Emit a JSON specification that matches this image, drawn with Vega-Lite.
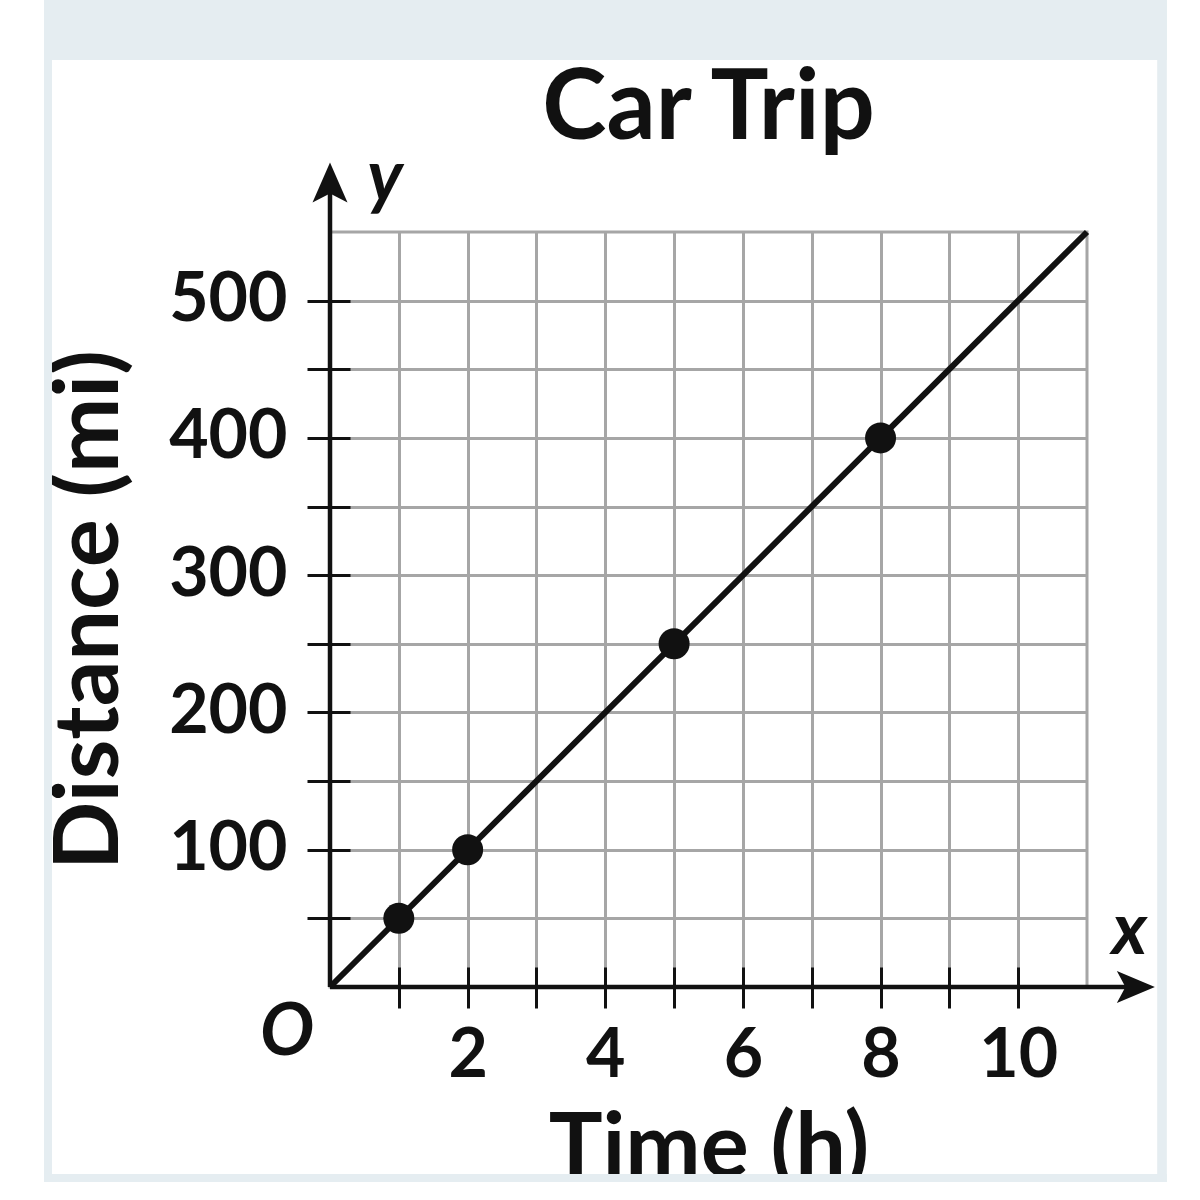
{
  "$schema": "https://vega.github.io/schema/vega-lite/v6.json",
  "width": 757,
  "height": 755,
  "autosize": {"type": "none"},
  "padding": {"left": 330, "top": 232, "right": 113, "bottom": 213},
  "background": "white",
  "config": {
    "view": {"stroke": "#a6a6a6", "strokeWidth": 3},
    "font": "Lato"
  },
  "title": {
    "text": "Car Trip",
    "font": "Lato",
    "fontSize": 97,
    "fontWeight": "bold",
    "color": "#111111",
    "anchor": "middle",
    "frame": "group",
    "baseline": "alphabetic",
    "offset": -236
  },
  "datasets": {
    "frame": [
      {"time": -4.156, "time2": 12.16, "distance": 675.3, "distance2": 719},
      {"time": -4.156, "time2": -4.04, "distance": -142, "distance2": 719},
      {"time": 12.02, "time2": 12.16, "distance": -142, "distance2": 719},
      {"time": -4.156, "time2": 12.16, "distance": -142, "distance2": -136.2}
    ],
    "page": [
      {"time": -4.156, "time2": 12.16, "distance": -142, "distance2": -160}
    ],
    "axislines": [
      {"time": 0, "time2": 11.71, "distance": 0, "distance2": 0},
      {"time": 0, "time2": 0, "distance": 0, "distance2": 586}
    ],
    "trip": [
      {"time": 1, "distance": 50},
      {"time": 2, "distance": 100},
      {"time": 5, "distance": 250},
      {"time": 8, "distance": 400}
    ],
    "line": [
      {"time": 0, "distance": 0},
      {"time": 11, "distance": 550}
    ],
    "labels": [
      {"time": -0.625, "distance": -49.5, "text": "O"},
      {"time": 11.62, "distance": 24, "text": "x"},
      {"time": 0.8, "distance": 572.6, "text": "y"}
    ]
  },
  "encoding": {
    "x": {
      "field": "time",
      "type": "quantitative",
      "scale": {"domain": [0, 11], "nice": false, "zero": false},
      "axis": {
        "title": "Time (h)",
        "values": [1, 2, 3, 4, 5, 6, 7, 8, 9, 10],
        "labelExpr": "datum.value % 2 === 0 ? datum.label : ''",
        "domain": false,
        "offset": -20,
        "tickSize": 41,
        "tickWidth": 3,
        "tickColor": "#111111",
        "grid": true,
        "gridColor": "#a6a6a6",
        "gridWidth": 3,
        "labelFont": "Lato",
        "labelFontWeight": "bold",
        "labelFontSize": 68,
        "labelColor": "#111111",
        "labelPadding": 14,
        "labelFlush": false,
        "labelOverlap": false,
        "titleFont": "Lato",
        "titleFontSize": 90,
        "titleFontWeight": "bold",
        "titleColor": "#111111",
        "titlePadding": 15
      }
    },
    "y": {
      "field": "distance",
      "type": "quantitative",
      "scale": {"domain": [0, 550], "nice": false, "zero": false},
      "axis": {
        "title": "Distance (mi)",
        "values": [50, 100, 150, 200, 250, 300, 350, 400, 450, 500],
        "labelExpr": "datum.value % 100 === 0 ? datum.label : ''",
        "domain": false,
        "offset": -20,
        "tickSize": 43,
        "tickWidth": 3,
        "tickColor": "#111111",
        "grid": true,
        "gridColor": "#a6a6a6",
        "gridWidth": 3,
        "labelFont": "Lato",
        "labelFontWeight": "bold",
        "labelFontSize": 68,
        "labelColor": "#111111",
        "labelPadding": 20,
        "labelFlush": false,
        "labelOverlap": false,
        "titleFont": "Lato",
        "titleFontSize": 90,
        "titleFontWeight": "bold",
        "titleColor": "#111111",
        "titlePadding": 32
      }
    }
  },
  "layer": [
    {
      "data": {"name": "frame"},
      "mark": {"type": "rect", "color": "#e5edf1", "clip": false},
      "encoding": {"x2": {"field": "time2"}, "y2": {"field": "distance2"}}
    },
    {
      "data": {"name": "page"},
      "mark": {"type": "rect", "color": "#ffffff", "clip": false},
      "encoding": {"x2": {"field": "time2"}, "y2": {"field": "distance2"}}
    },
    {
      "data": {"name": "axislines"},
      "mark": {"type": "rule", "color": "#111111", "strokeWidth": 4.5},
      "encoding": {"x2": {"field": "time2"}, "y2": {"field": "distance2"}}
    },
    {
      "data": {"values": [{"time": 11.71, "distance": 0}]},
      "mark": {"type": "point", "filled": true, "color": "#111111", "opacity": 1, "size": 1444, "shape": "M1,0L-1,0.84L-0.55,0L-1,-0.84Z"},
      "encoding": {}
    },
    {
      "data": {"values": [{"time": 0, "distance": 586}]},
      "mark": {"type": "point", "filled": true, "color": "#111111", "opacity": 1, "size": 1600, "shape": "M0,-1L0.875,1L0,0.55L-0.875,1Z"},
      "encoding": {}
    },
    {
      "data": {"name": "line"},
      "mark": {"type": "line", "color": "#111111", "strokeWidth": 6},
      "encoding": {}
    },
    {
      "data": {"name": "trip"},
      "mark": {"type": "circle", "color": "#111111", "opacity": 1, "size": 961},
      "encoding": {}
    },
    {
      "data": {"name": "labels"},
      "mark": {"type": "text", "font": "Lato", "fontSize": 72, "fontWeight": "bold", "fontStyle": "italic", "color": "#111111", "baseline": "alphabetic", "align": "center"},
      "encoding": {"text": {"field": "text"}}
    }
  ]
}
